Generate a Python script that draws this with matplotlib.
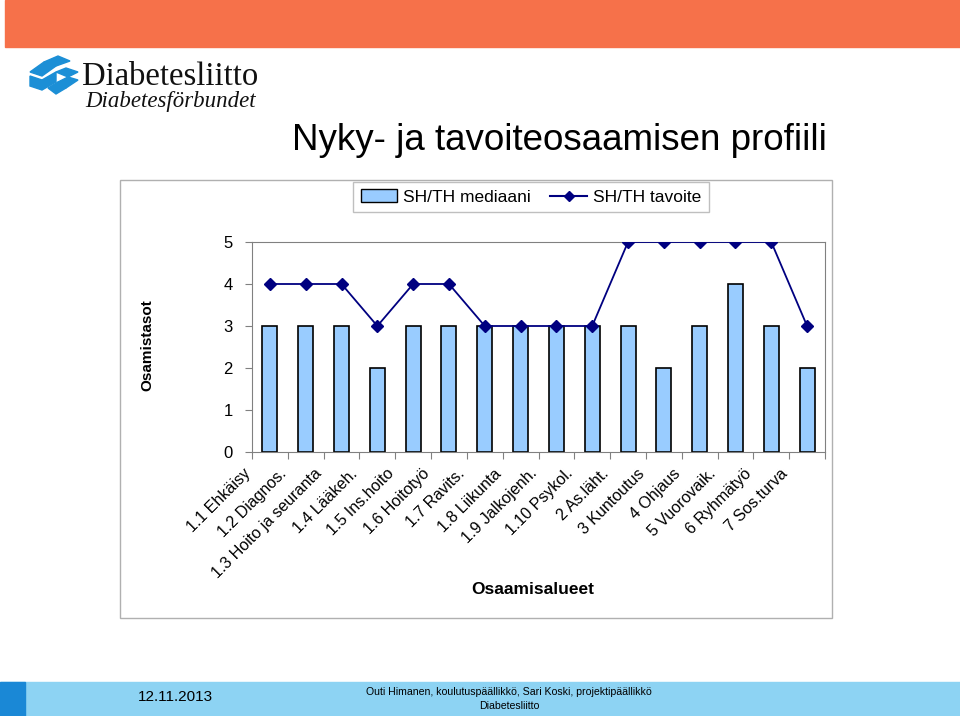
import matplotlib
matplotlib.use('Agg')
import matplotlib.pyplot as plt
import matplotlib.patches as mpatches
from matplotlib.lines import Line2D
from matplotlib.transforms import ScaledTranslation
import numpy as np

categories = ['1.1 Ehkäisy', '1.2 Diagnos.', '1.3 Hoito ja seuranta', '1.4 Lääkeh.',
              '1.5 Ins.hoito', '1.6 Hoitotyö', '1.7 Ravits.', '1.8 Liikunta',
              '1.9 Jalkojenh.', '1.10 Psykol.', '2 As.läht.', '3 Kuntoutus',
              '4 Ohjaus', '5 Vuorovaik.', '6 Ryhmätyö', '7 Sos.turva']
mediaani = [3, 3, 3, 2, 3, 3, 3, 3, 3, 3, 3, 2, 3, 4, 3, 2]
tavoite = [4, 4, 4, 3, 4, 4, 3, 3, 3, 3, 5, 5, 5, 5, 5, 3]
yticks = [0, 1, 2, 3, 4, 5]

W, H = 960, 716
fig = plt.figure(figsize=(9.6, 7.16), dpi=100)

def fx(px):
    return px / W

def fy(py):
    return 1 - py / H

# top orange band
fig.patches.append(mpatches.Rectangle((fx(5), fy(47)), fx(955), 47 / H,
                                      transform=fig.transFigure, color='#f6714a', zorder=0))
# bottom band
fig.patches.append(mpatches.Rectangle((0, 0), 1, 34 / H, transform=fig.transFigure,
                                      color='#8dd3f3', zorder=0))
fig.patches.append(mpatches.Rectangle((0, 0), fx(25), 34 / H, transform=fig.transFigure,
                                      color='#1a88d6', zorder=1))

# logo (rough)
logo_col = '#1c8fd6'
shapes = [
    [(30, 72), (44, 62), (56, 66), (42, 76)],
    [(44, 62), (58, 56), (70, 61), (56, 66)],
    [(30, 76), (42, 80), (42, 90), (30, 86)],
    [(42, 80), (56, 72), (56, 82), (42, 90)],
    [(56, 72), (66, 68), (78, 72), (68, 77)],
    [(58, 82), (68, 77), (78, 80), (66, 88)],
    [(48, 88), (58, 82), (66, 88), (56, 94)],
]
for s in shapes:
    fig.patches.append(mpatches.Polygon([(fx(x), fy(y)) for x, y in s], closed=True,
                                        transform=fig.transFigure, color=logo_col))
fig.text(fx(82), fy(77), 'Diabetesliitto', family='Liberation Serif', fontsize=23.5,
         va='center', ha='left', color='#111111')
fig.text(fx(85), fy(101), 'Diabetesförbundet', family='Liberation Serif', style='italic',
         fontsize=16.5, va='center', ha='left', color='#111111')

fig.text(fx(559), fy(140), 'Nyky- ja tavoiteosaamisen profiili', fontsize=26.5,
         ha='center', va='center', family='Liberation Sans')

# chart frame
fig.patches.append(mpatches.Rectangle((fx(120), fy(618)), fx(712), 438 / H,
                                      transform=fig.transFigure, fill=False,
                                      edgecolor='#b0b0b0', lw=1))

ax = fig.add_axes([fx(252), fy(452), fx(573), 210 / H])
x = np.arange(len(categories))
ax.bar(x, mediaani, width=0.42, color='#99ccff', edgecolor='black', linewidth=1.2, zorder=2)
ax.plot(x, tavoite, color='#000080', marker='D', markersize=6, linewidth=1.3, zorder=3)
ax.set_xlim(-0.5, len(categories) - 0.5)
ax.set_ylim(0, 5)
ax.set_yticks(yticks)
ax.tick_params(axis='y', labelsize=12, length=5, color='#808080', pad=9)
ax.set_xticks(np.arange(-0.5, len(categories), 1.0))
ax.set_xticklabels([])
ax.tick_params(axis='x', length=5, color='#808080', direction='out')
ax.set_xticks(x, minor=True)
ax.set_xticklabels(categories, minor=True, rotation=45, ha='right', va='top',
                   fontsize=11.5, family='Liberation Sans')
ax.tick_params(axis='x', which='minor', length=0, pad=10)
off = ScaledTranslation(-12 / 72, 0, fig.dpi_scale_trans)
for lbl in ax.get_xticklabels(minor=True):
    lbl.set_transform(lbl.get_transform() + off)
for lbl in ax.get_yticklabels():
    lbl.set_family('Liberation Sans')
for sp in ax.spines.values():
    sp.set_color('#808080')

fig.text(fx(147), fy(345), 'Osamistasot', rotation=90, fontsize=11, fontweight='bold',
         ha='center', va='center', family='Liberation Sans')
fig.text(fx(533), fy(590), 'Osaamisalueet', fontsize=12.5, fontweight='bold',
         ha='center', va='center', family='Liberation Sans')

handles = [mpatches.Patch(facecolor='#99ccff', edgecolor='black', label='SH/TH mediaani'),
           Line2D([0], [0], color='#000080', marker='D', markersize=5, label='SH/TH tavoite')]
leg = fig.legend(handles=handles, loc='center', ncol=2,
                 bbox_to_anchor=(fx(531), fy(197)), frameon=True,
                 fancybox=False, edgecolor='#b0b0b0', handlelength=2.1,
                 handletextpad=0.35, columnspacing=1.1, borderpad=0.45,
                 prop={'family': 'Liberation Sans', 'size': 12.5})

fig.text(fx(175), fy(697), '12.11.2013', fontsize=11, ha='center', va='center',
         family='Liberation Sans')
fig.text(fx(509), fy(692), 'Outi Himanen, koulutuspäällikkö, Sari Koski, projektipäällikkö',
         fontsize=7.6, ha='center', va='center', family='Liberation Sans')
fig.text(fx(509), fy(706), 'Diabetesliitto', fontsize=7.6, ha='center', va='center',
         family='Liberation Sans')

fig.savefig('out.png', dpi=100)
